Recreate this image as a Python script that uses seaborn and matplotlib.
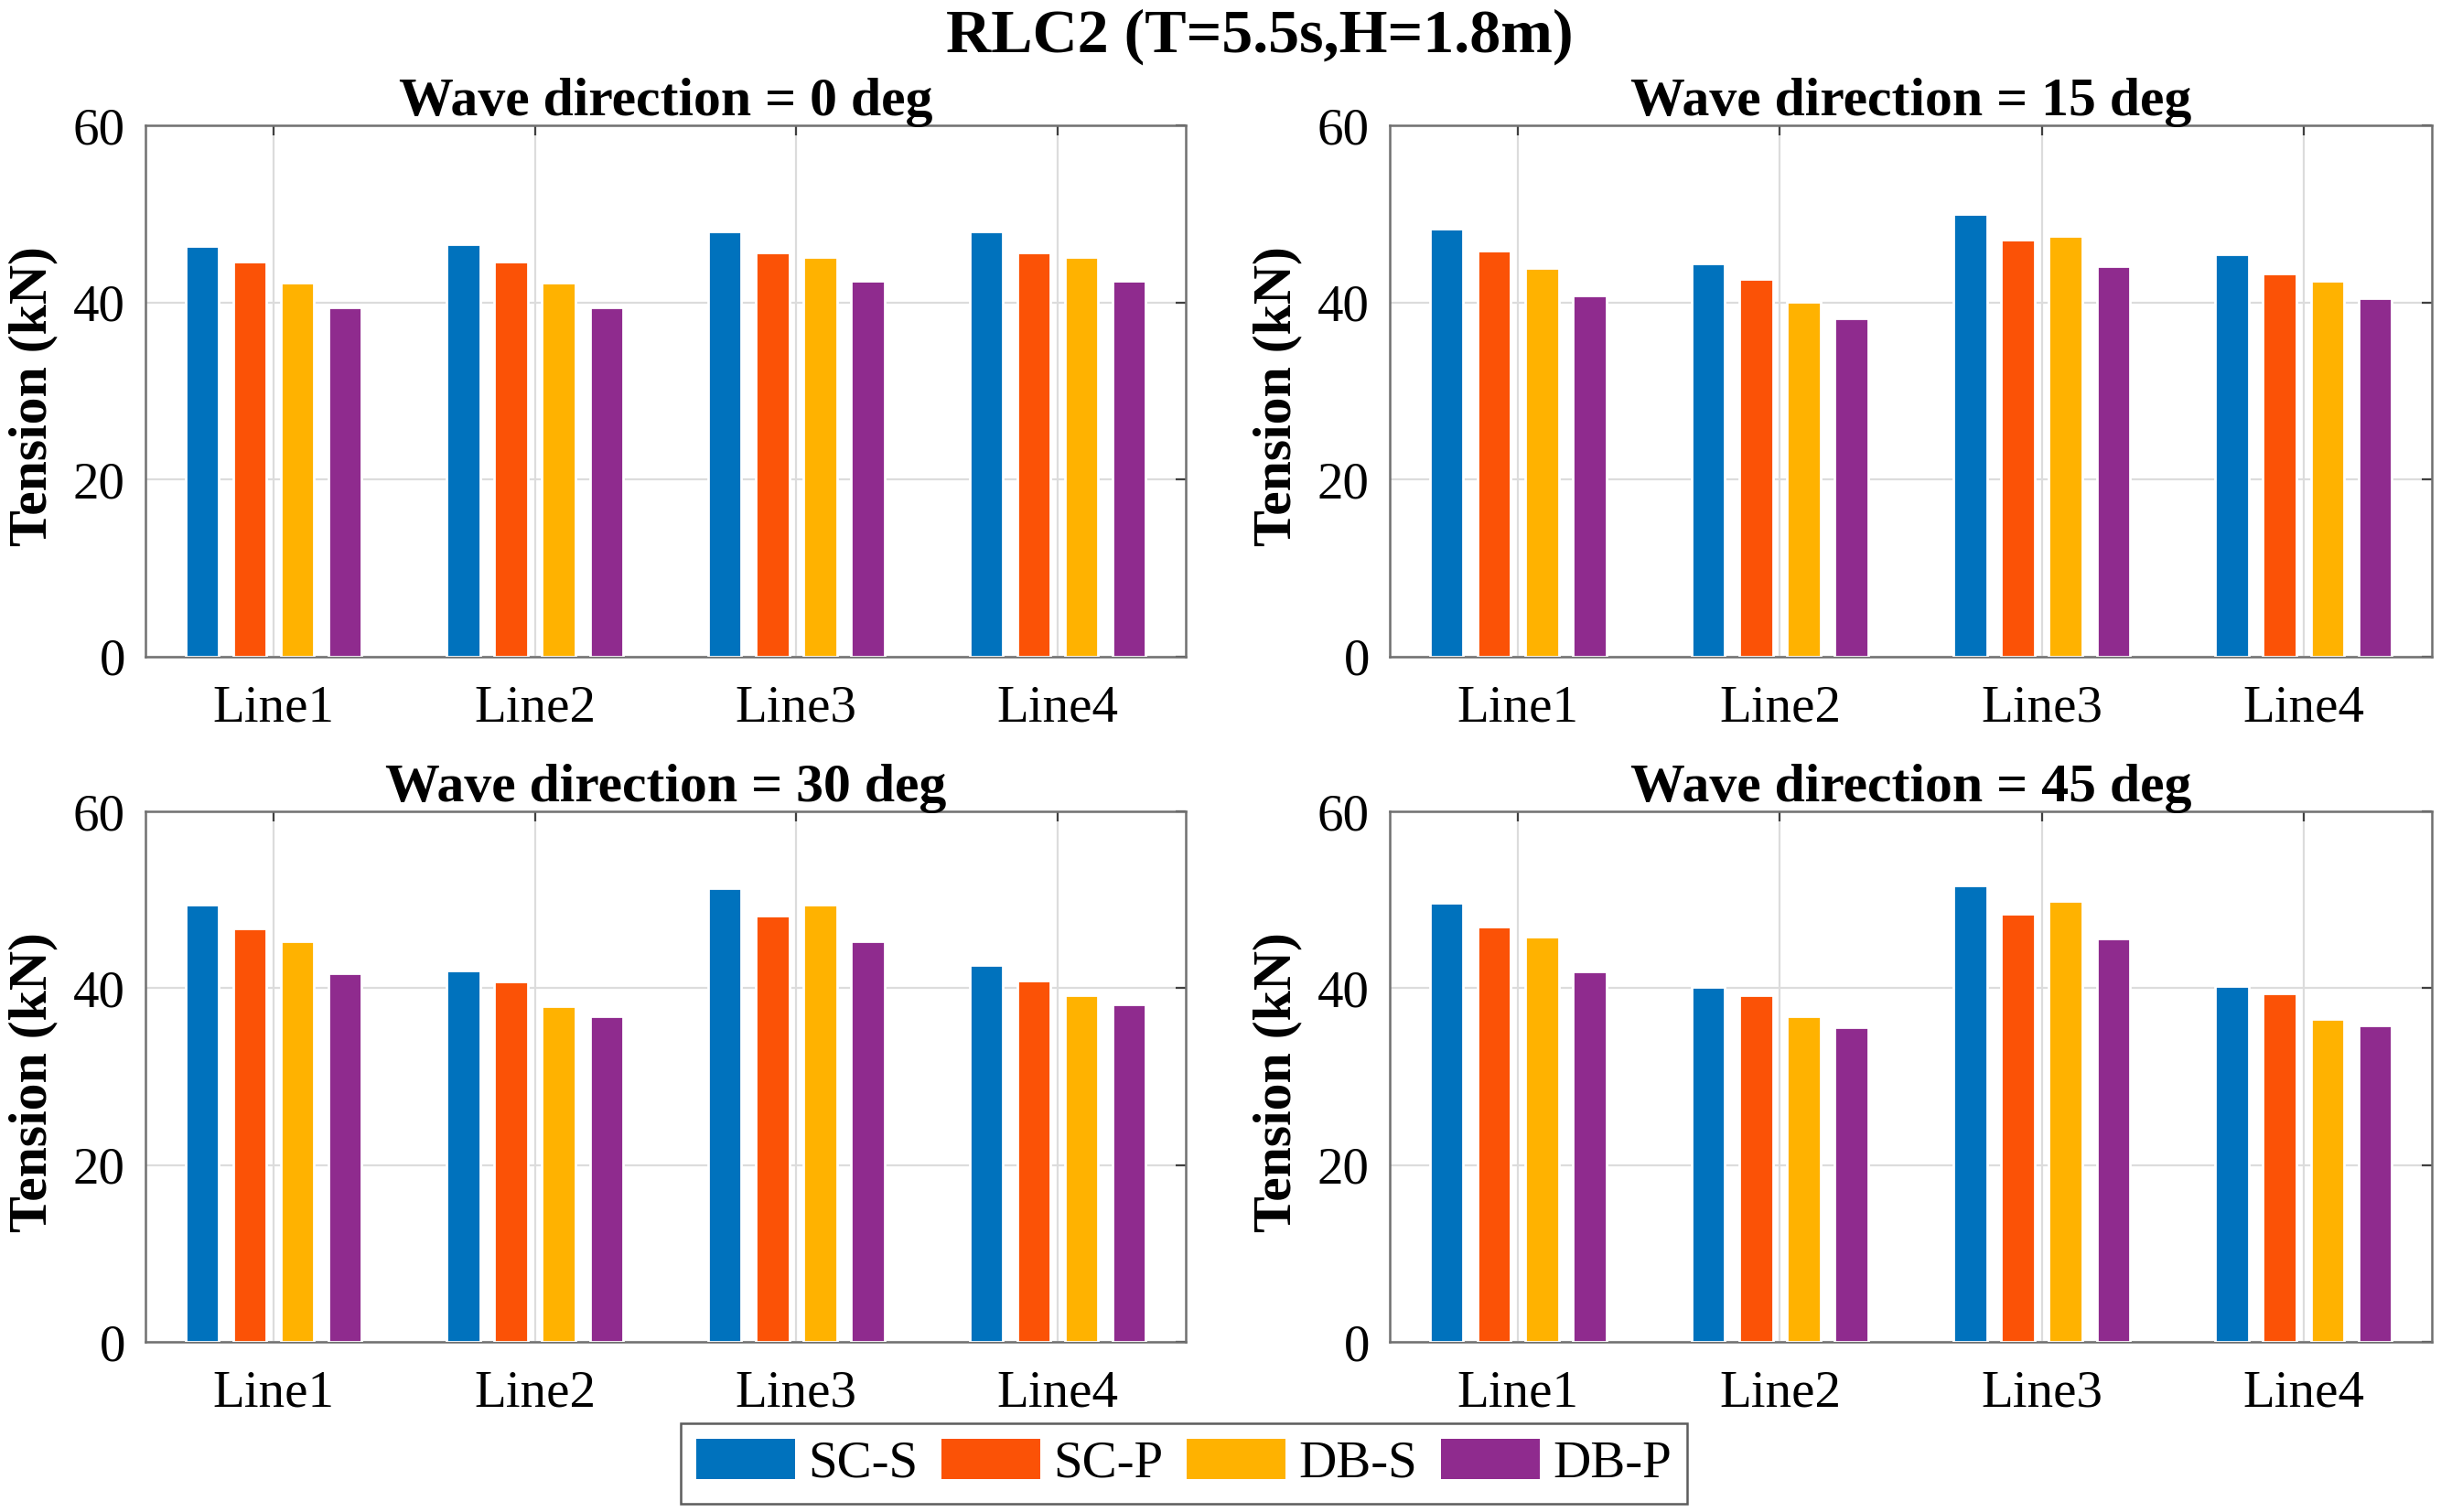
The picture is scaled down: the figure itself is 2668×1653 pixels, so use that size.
import numpy as np
import pandas as pd
import seaborn as sns
import matplotlib.pyplot as plt
from matplotlib.patches import Patch

lines = ['Line1', 'Line2', 'Line3', 'Line4']
cases = ['SC-S', 'SC-P', 'DB-S', 'DB-P']
directions = [0, 15, 30, 45]

# tension (kN) per line, one list per case, for each wave direction
dir0 = {'SC-S': [46.4, 46.6, 48.0, 48.0],
        'SC-P': [44.6, 44.6, 45.6, 45.6],
        'DB-S': [42.2, 42.2, 45.1, 45.1],
        'DB-P': [39.5, 39.5, 42.4, 42.4]}
dir15 = {'SC-S': [48.3, 44.4, 50.0, 45.4],
         'SC-P': [45.9, 42.7, 47.1, 43.3],
         'DB-S': [43.9, 40.1, 47.5, 42.4],
         'DB-P': [40.8, 38.2, 44.1, 40.5]}
dir30 = {'SC-S': [49.4, 42.0, 51.3, 42.6],
         'SC-P': [46.8, 40.8, 48.2, 40.9],
         'DB-S': [45.3, 38.0, 49.4, 39.2],
         'DB-P': [41.7, 36.8, 45.3, 38.2]}
dir45 = {'SC-S': [49.7, 40.1, 51.6, 40.2],
         'SC-P': [47.0, 39.2, 48.4, 39.4],
         'DB-S': [45.8, 36.8, 49.9, 36.5],
         'DB-P': [41.9, 35.6, 45.6, 35.8]}

colors = ['#0072BD', '#FB5206', '#FFB200', '#8F2B8E']

rows = []
for d, tab in zip(directions, [dir0, dir15, dir30, dir45]):
    for c in cases:
        for ln, v in zip(lines, tab[c]):
            rows.append({'dir': d, 'case': c, 'line': ln, 'tension': v})
df = pd.DataFrame(rows)

sns.set_style('white')
plt.rcParams['font.family'] = ['Liberation Serif', 'DejaVu Serif']
plt.rcParams['mathtext.fontset'] = 'stix'
plt.rcParams['text.color'] = 'black'
plt.rcParams['axes.labelcolor'] = 'black'
plt.rcParams['xtick.color'] = 'black'
plt.rcParams['ytick.color'] = 'black'

fig = plt.figure(figsize=(13.34, 8.265), dpi=200)

W, H = 2668.0, 1653.0
boxes = [(159, 137, 1296, 718), (1519, 137, 2658, 718),
         (159, 887, 1296, 1467), (1519, 887, 2658, 1467)]

for d, (x0, y0, x1, y1) in zip(directions, boxes):
    ax = fig.add_axes([x0 / W, 1 - y1 / H, (x1 - x0) / W, (y1 - y0) / H])
    sub = df[df['dir'] == d]
    sns.barplot(data=sub, x='line', y='tension', hue='case', order=lines,
                hue_order=cases, palette=colors, width=0.73, gap=0.3,
                saturation=1, legend=False, ax=ax, zorder=3)
    ax.set_xlim(-0.49, 3.49)
    ax.set_ylim(0, 60)
    ax.set_yticks([0, 20, 40, 60])
    ax.grid(True, color='#dcdcdc', lw=0.8, zorder=0)
    ax.set_axisbelow(True)
    for s in ax.spines.values():
        s.set_visible(True)
        s.set_color('#707070')
        s.set_linewidth(0.9)
    ax.tick_params(direction='in', length=4, width=0.8, color='#404040',
                   labelcolor='black', top=True, right=True, labelsize=20.5)
    ax.tick_params(axis='y', pad=8)
    ax.tick_params(axis='x', pad=11)
    ax.set_xlabel('')
    ax.set_ylabel('Tension (kN)', fontsize=21.5, fontweight='bold',
                  va='center', color='black')
    ax.yaxis.set_label_coords(-0.108, 0.49)
    ax.set_title('Wave direction = %d deg' % d, fontsize=21.5,
                 fontweight='bold', pad=4, color='black')

fig.suptitle('RLC2 (T=5.5s,H=1.8m)', fontsize=24.5, fontweight='bold',
             x=1377 / W, y=1 - 40 / H, va='center', color='black')

handles = [Patch(facecolor=c, edgecolor='none') for c in colors]
leg = fig.legend(handles, cases, loc='center', ncol=4,
                 bbox_to_anchor=(1294 / W, 1 - 1600 / H), fontsize=20.5,
                 frameon=True, fancybox=False, edgecolor='#333333',
                 handlelength=1.9, handleheight=0.8, handletextpad=0.25,
                 columnspacing=0.45, borderpad=0.3, labelcolor='black')
leg.get_frame().set_linewidth(0.9)

fig.savefig('out.png', dpi=200, facecolor='white')
